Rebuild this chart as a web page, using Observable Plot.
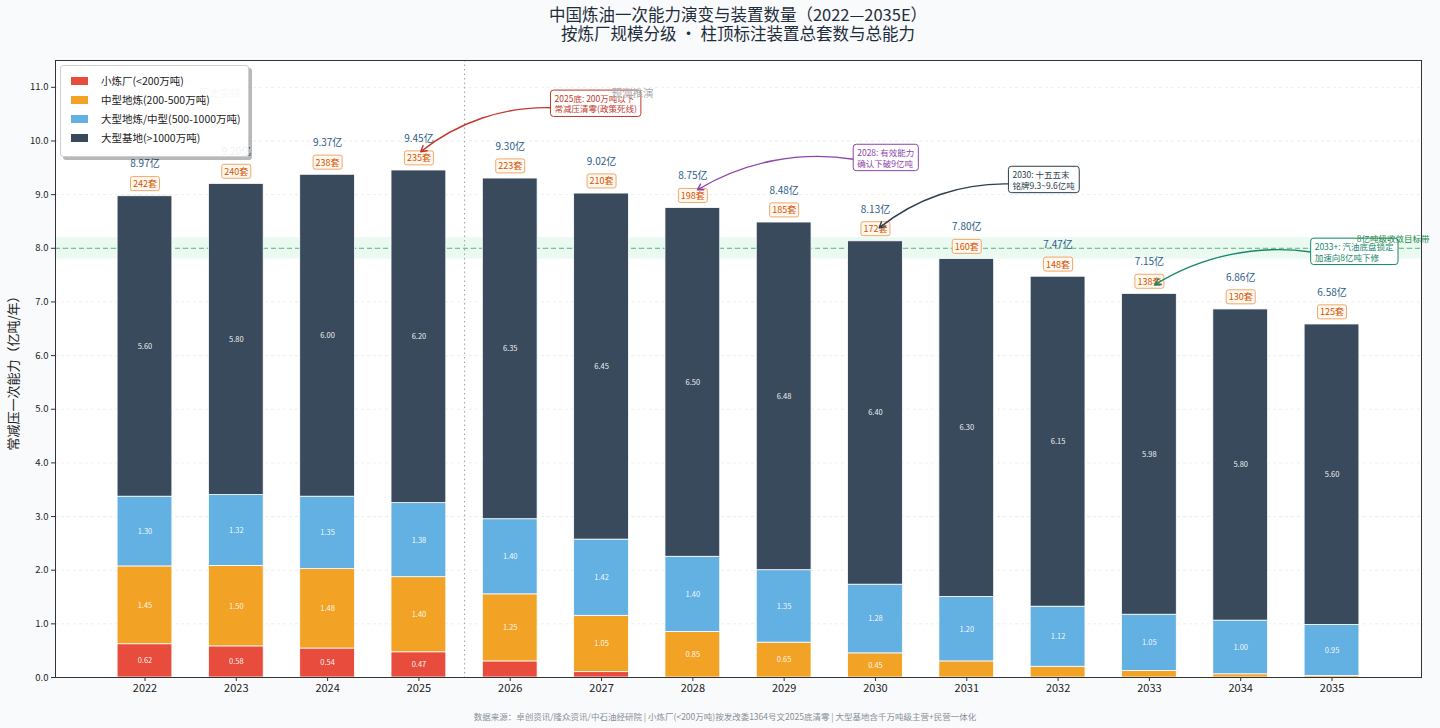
<!DOCTYPE html>
<html><head><meta charset="utf-8">
<script src="https://cdn.jsdelivr.net/npm/d3@7"></script>
<script src="https://cdn.jsdelivr.net/npm/@observablehq/plot@0.6"></script>
<style>
html,body{margin:0;padding:0}
body{background:#f8fafc;font-family:"Noto Sans CJK SC","Noto Sans",sans-serif;width:1440px;height:728px;overflow:hidden;position:relative;color:#222}
.tl{position:absolute;left:55px;width:1366px;text-align:center;font-size:16.5px;line-height:18px;color:#1f2d3a;white-space:nowrap}
#t1{top:5px}
#t2{top:24px}
#chart{position:absolute;left:0;top:50px}
#ylabel{position:absolute;left:12px;top:370px;transform:translate(-50%,-50%) rotate(-90deg);font-size:13px;white-space:nowrap;color:#222}
#legend{position:absolute;left:60px;top:65px;width:189px;height:92px;background:rgba(255,255,255,0.9);border:1px solid #cfcfcf;border-radius:3px;box-shadow:3px 3px 0 rgba(0,0,0,0.28);box-sizing:border-box;padding:5px 0 0 10px}
.li{display:flex;align-items:center;height:19px;font-size:10.5px;color:#222}
.sw{width:17px;height:8px;margin-right:13px}
#footer{position:absolute;left:0;width:1450px;top:710px;text-align:center;font-size:8.5px;color:#8a8f96}
</style></head><body>
<div id="t1" class="tl"></div>
<div id="t2" class="tl"></div>
<div id="chart"></div>
<div id="ylabel"></div>
<div id="legend"></div>
<div id="footer"></div>
<script>
const titleLines = ["中国炼油一次能力演变与装置数量（2022—2035E）", "按炼厂规模分级 · 柱顶标注装置总套数与总能力"];
const yLabel = "常减压一次能力（亿吨/年）";
const footerText = "数据来源：卓创资讯/隆众资讯/中石油经研院  |  小炼厂(<200万吨)按发改委1364号文2025底清零  |  大型基地含千万吨级主营+民营一体化";

const years = [2022,2023,2024,2025,2026,2027,2028,2029,2030,2031,2032,2033,2034,2035];
const tiers = ["小炼厂(<200万吨)", "中型地炼(200-500万吨)", "大型地炼/中型(500-1000万吨)", "大型基地(>1000万吨)"];
const tierColors = ["#e74c3c", "#f2a325", "#63b0e2", "#384a5c"];
const small = [0.62,0.58,0.54,0.47,0.30,0.10,0,0,0,0,0,0,0,0];
const mid   = [1.45,1.50,1.48,1.40,1.25,1.05,0.85,0.65,0.45,0.30,0.20,0.12,0.06,0.03];
const large = [1.30,1.32,1.35,1.38,1.40,1.42,1.40,1.35,1.28,1.20,1.12,1.05,1.00,0.95];
const base  = [5.60,5.80,6.00,6.20,6.35,6.45,6.50,6.48,6.40,6.30,6.15,5.98,5.80,5.60];
const units = [242,240,238,235,223,210,198,185,172,160,148,138,130,125];
const yTicks = [0,1,2,3,4,5,6,7,8,9,10,11];
const divider = 2025.5;
const phaseLabels = [{text:"历史实绩", x:2022.82, y:10.88}, {text:"预测推演", x:2027.34, y:10.88}];
const targetBand = [7.8, 8.2];
const targetLine = 8.0;
const targetLabel = {text:"8亿吨级收敛目标带", x:2035.27, y:8.2};
const annotations = [
  {text:"2025底: 200万吨以下\n常减压清零(政策死线)", x:2026.485, y:10.69, ax:2026.44, ay:10.62, tx:2025.02, ty:9.80, color:"#c0392b"},
  {text:"2028: 有效能力\n确认下破9亿吨", x:2029.80, y:9.68, ax:2029.76, ay:9.66, tx:2028.05, ty:9.09, color:"#8e44ad"},
  {text:"2030: 十五五末\n铭牌9.3~9.6亿吨", x:2031.50, y:9.27, ax:2031.46, ay:9.20, tx:2030.04, ty:8.38, color:"#2c3e50"},
  {text:"2033+: 汽油底盘锁定\n加速向8亿吨下修", x:2034.81, y:7.93, ax:2034.77, ay:7.93, tx:2033.06, ty:7.32, color:"#17876a"}
];
const barWidth = 0.6;

document.getElementById("t1").textContent = titleLines[0];
document.getElementById("t2").textContent = titleLines[1];
document.getElementById("ylabel").textContent = yLabel;
document.getElementById("footer").textContent = footerText;
document.getElementById("legend").innerHTML = tiers.map((t,i)=>`<div class="li"><div class="sw" style="background:${tierColors[i]}"></div>${t}</div>`).join("");

const series = [small, mid, large, base];
const segments = [];
const tops = [];
years.forEach((yr, i) => {
  let acc = 0;
  series.forEach((s, k) => {
    const v = s[i];
    segments.push({year: yr, tier: tiers[k], value: v, y1: acc, y2: acc + v});
    acc += v;
  });
  tops.push({year: yr, total: acc, units: units[i]});
});

const fmt2 = d3.format(".2f");
const font = '"Noto Sans CJK SC","Noto Sans",sans-serif';

const marks = [
  Plot.frame({fill: "white", stroke: null}),
  Plot.gridY(yTicks, {stroke: "#d6d6d6", strokeOpacity: 0.45, strokeDasharray: "3,3"}),
  Plot.rect([targetBand], {y1: d => d[0], y2: d => d[1], fill: "#2ecc71", fillOpacity: 0.1}),
  Plot.ruleY([targetLine], {stroke: "#2ea35f", strokeOpacity: 0.75, strokeDasharray: "5,3", strokeWidth: 1}),
  Plot.ruleX([divider], {stroke: "#a8a8a8", strokeDasharray: "1.5,3", strokeWidth: 1.1}),
  Plot.rectY(segments.filter(d => d.value > 0), {x1: d => d.year - barWidth/2, x2: d => d.year + barWidth/2, y1: "y1", y2: "y2", fill: "tier", stroke: "white", strokeWidth: 0.8}),
  Plot.text(segments.filter(d => d.value >= 0.4), {x: "year", y: d => (d.y1 + d.y2)/2, text: d => fmt2(d.value), fill: "white", fillOpacity: 0.95, fontSize: 7.5}),
  Plot.text(tops, {x: "year", y: "total", dy: -12, text: d => d.units + "套", fill: "#d35400", fontSize: 9, ariaDescription: "count-box"}),
  Plot.text(tops, {x: "year", y: "total", dy: -32, text: d => fmt2(d.total) + "亿", fill: "#2d5d8a", fontSize: 10}),
];
annotations.forEach(a => {
  marks.push(Plot.arrow([a], {x1: "ax", y1: "ay", x2: "tx", y2: "ty", stroke: a.color, strokeWidth: 1.4, bend: -20, headLength: 7}));
  marks.push(Plot.text([a], {x: "x", y: "y", text: "text", textAnchor: "start", lineAnchor: "middle", lineHeight: 1.22, fill: a.color, fontSize: 8.5, ariaDescription: "anno-box"}));
});
marks.push(
  Plot.text(phaseLabels, {x: "x", y: "y", text: "text", fill: "#a6abb0", fontSize: 10.5}),
  Plot.text([targetLabel], {x: "x", y: "y", text: "text", textAnchor: "start", fill: "#1f8a4c", fontSize: 8.5, dy: 2}),
  Plot.axisX({ticks: years, tickFormat: "d", fontSize: 11, tickSize: 4, tickPadding: 3, label: null, stroke: "#333"}),
  Plot.axisY({ticks: yTicks, tickFormat: d3.format(".1f"), fontSize: 9.5, tickSize: 4, tickPadding: 3, label: null, stroke: "#333"}),
  Plot.frame({stroke: "#333", strokeWidth: 1})
);

const chart = Plot.plot({
  width: 1440, height: 655,
  marginTop: 10, marginLeft: 55, marginRight: 19, marginBottom: 28,
  style: {background: "transparent", fontFamily: font, color: "#222", overflow: "visible"},
  x: {domain: [years[0] - 0.98, years[years.length-1] + 0.98]},
  y: {domain: [0, 11.5]},
  color: {domain: tiers, range: tierColors},
  marks
});
document.getElementById("chart").appendChild(chart);

function boxify(label, padX, padY, rx, fillFn, strokeFn) {
  chart.querySelectorAll(`g[aria-description="${label}"]`).forEach(g => {
    const color = g.getAttribute("fill");
    g.querySelectorAll("text").forEach(t => {
      const bb = t.getBBox();
      const r = document.createElementNS("http://www.w3.org/2000/svg", "rect");
      r.setAttribute("x", bb.x - padX);
      r.setAttribute("y", bb.y - padY);
      r.setAttribute("width", bb.width + 2*padX);
      r.setAttribute("height", bb.height + 2*padY);
      r.setAttribute("rx", rx);
      r.setAttribute("fill", fillFn(color));
      r.setAttribute("stroke", strokeFn(color));
      r.setAttribute("stroke-width", 1);
      if (t.getAttribute("transform")) r.setAttribute("transform", t.getAttribute("transform"));
      g.insertBefore(r, t);
    });
  });
}
boxify("count-box", 2.5, 0.5, 2, () => "#fff8f0", () => "#f0a868");
boxify("anno-box", 4, 2, 3, () => "white", c => c);
</script>
</body></html>
